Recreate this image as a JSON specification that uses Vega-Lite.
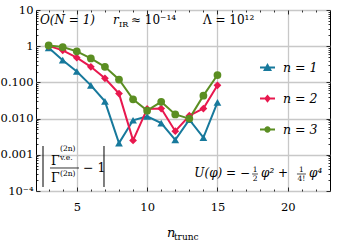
{
  "$schema": "https://vega.github.io/schema/vega-lite/v6.json",
  "width": 294,
  "height": 181,
  "autosize": {"type": "none"},
  "padding": {"left": 36, "top": 10, "right": 8, "bottom": 54},
  "background": "white",
  "config": {
    "view": {"stroke": "black", "strokeWidth": 1},
    "font": "DejaVu Serif",
    "axis": {"labelFont": "DejaVu Serif", "labelColor": "black", "labelFontSize": 11.5, "domain": false, "title": null, "tickColor": "black", "tickWidth": 0.8, "gridColor": "#c8c8c8", "gridWidth": 1.3, "gridOpacity": 1},
    "text": {"font": "DejaVu Serif", "color": "black", "baseline": "alphabetic", "align": "left"}
  },
  "data": {
    "values": [
      {"ntrunc": 3, "err": 0.9, "series": "n = 1"},
      {"ntrunc": 4, "err": 0.41, "series": "n = 1"},
      {"ntrunc": 5, "err": 0.2, "series": "n = 1"},
      {"ntrunc": 6, "err": 0.083, "series": "n = 1"},
      {"ntrunc": 7, "err": 0.03, "series": "n = 1"},
      {"ntrunc": 8, "err": 0.0021, "series": "n = 1"},
      {"ntrunc": 9, "err": 0.009, "series": "n = 1"},
      {"ntrunc": 10, "err": 0.0115, "series": "n = 1"},
      {"ntrunc": 11, "err": 0.0075, "series": "n = 1"},
      {"ntrunc": 12, "err": 0.0026, "series": "n = 1"},
      {"ntrunc": 13, "err": 0.0093, "series": "n = 1"},
      {"ntrunc": 14, "err": 0.003, "series": "n = 1"},
      {"ntrunc": 15, "err": 0.028, "series": "n = 1"},
      {"ntrunc": 3, "err": 1.02, "series": "n = 2"},
      {"ntrunc": 4, "err": 0.77, "series": "n = 2"},
      {"ntrunc": 5, "err": 0.48, "series": "n = 2"},
      {"ntrunc": 6, "err": 0.27, "series": "n = 2"},
      {"ntrunc": 7, "err": 0.13, "series": "n = 2"},
      {"ntrunc": 8, "err": 0.049, "series": "n = 2"},
      {"ntrunc": 9, "err": 0.0025, "series": "n = 2"},
      {"ntrunc": 10, "err": 0.0185, "series": "n = 2"},
      {"ntrunc": 11, "err": 0.019, "series": "n = 2"},
      {"ntrunc": 12, "err": 0.0045, "series": "n = 2"},
      {"ntrunc": 13, "err": 0.012, "series": "n = 2"},
      {"ntrunc": 14, "err": 0.019, "series": "n = 2"},
      {"ntrunc": 15, "err": 0.083, "series": "n = 2"},
      {"ntrunc": 3, "err": 1.05, "series": "n = 3"},
      {"ntrunc": 4, "err": 0.95, "series": "n = 3"},
      {"ntrunc": 5, "err": 0.72, "series": "n = 3"},
      {"ntrunc": 6, "err": 0.46, "series": "n = 3"},
      {"ntrunc": 7, "err": 0.27, "series": "n = 3"},
      {"ntrunc": 8, "err": 0.12, "series": "n = 3"},
      {"ntrunc": 9, "err": 0.034, "series": "n = 3"},
      {"ntrunc": 10, "err": 0.0166, "series": "n = 3"},
      {"ntrunc": 11, "err": 0.029, "series": "n = 3"},
      {"ntrunc": 12, "err": 0.013, "series": "n = 3"},
      {"ntrunc": 13, "err": 0.0100, "series": "n = 3"},
      {"ntrunc": 14, "err": 0.043, "series": "n = 3"},
      {"ntrunc": 15, "err": 0.16, "series": "n = 3"}
    ]
  },
  "resolve": {
    "scale": {"color": "independent", "shape": "independent"},
    "axis": {"x": "independent", "y": "independent"}
  },
  "layer": [
    {
      "mark": {"type": "line", "strokeWidth": 2},
      "encoding": {
        "x": {"field": "ntrunc", "type": "quantitative", "scale": {"domain": [2.1, 23], "nice": false, "zero": false},
              "axis": {"values": [5, 10, 15, 20], "grid": true, "ticks": false, "labels": true, "labelPadding": 10, "orient": "bottom"}},
        "y": {"field": "err", "type": "quantitative", "scale": {"type": "log", "domain": [0.0001, 10], "nice": false},
              "axis": {"values": [0.0001, 0.001, 0.01, 0.1, 1, 10], "grid": true, "ticks": false, "labels": true, "labelPadding": 3, "orient": "left",
                       "labelExpr": "datum.value > 5 ? '10' : datum.value > 0.5 ? '1' : datum.value > 0.05 ? '0.100' : datum.value > 0.005 ? '0.010' : datum.value > 0.0005 ? '0.001' : '10⁻⁴'"}},
        "color": {"field": "series", "type": "nominal", "scale": {"domain": ["n = 1", "n = 2", "n = 3"], "range": ["#17799c", "#e8184e", "#5b8e22"]}, "legend": null}
      }
    },
    {
      "mark": {"type": "point", "filled": true, "opacity": 1, "size": 60},
      "encoding": {
        "x": {"field": "ntrunc", "type": "quantitative", "axis": {"values": [5, 10, 15, 20], "grid": false, "labels": false, "ticks": true, "tickSize": -4, "orient": "bottom"}},
        "y": {"field": "err", "type": "quantitative", "axis": {"values": [0.0001, 0.001, 0.01, 0.1, 1, 10], "grid": false, "labels": false, "ticks": true, "tickSize": -4, "orient": "left"}},
        "color": {"field": "series", "type": "nominal", "scale": {"domain": ["n = 1", "n = 2", "n = 3"], "range": ["#17799c", "#e8184e", "#5b8e22"]}, "legend": null},
        "shape": {"field": "series", "type": "nominal", "scale": {"domain": ["n = 1", "n = 2", "n = 3"], "range": ["triangle-up", "diamond", "circle"]}, "legend": null}
      }
    },
    {
      "transform": [{"filter": "false"}],
      "mark": {"type": "point", "filled": true, "opacity": 1},
      "encoding": {
        "x": {"field": "ntrunc", "type": "quantitative", "axis": {"values": [5, 10, 15, 20], "grid": false, "labels": false, "ticks": true, "tickSize": -4, "orient": "top"}},
        "y": {"field": "err", "type": "quantitative", "axis": {"values": [0.0001, 0.001, 0.01, 0.1, 1, 10], "grid": false, "labels": false, "ticks": true, "tickSize": -4, "orient": "right"}},
        "color": {"field": "series", "type": "nominal", "scale": {"domain": ["n = 1", "n = 2", "n = 3"], "range": ["#17799c", "#e8184e", "#5b8e22"]},
                  "legend": {"orient": "none", "legendX": 224, "legendY": 50, "title": null, "padding": 0, "symbolSize": 225, "symbolStrokeWidth": 0, "symbolOpacity": 1,
                             "labelFont": "DejaVu Serif", "labelFontSize": 12.5, "labelFontStyle": "italic", "labelOffset": 8, "rowPadding": 17, "labelColor": "black"}},
        "shape": {"field": "series", "type": "nominal", "scale": {"domain": ["n = 1", "n = 2", "n = 3"],
                  "range": ["M-1,-0.13H1V0.13H-1ZM0,-0.6L0.6,0.45L-0.6,0.45Z", "M-1,-0.13H1V0.13H-1ZM0,-0.55L0.45,0L0,0.55L-0.45,0Z", "M-1,-0.13H1V0.13H-1ZM-0.42,0A0.42,0.42 0 1,1 0.42,0A0.42,0.42 0 1,1 -0.42,0Z"]},
                  "legend": {"orient": "none", "legendX": 224, "legendY": 50, "title": null, "padding": 0, "symbolSize": 225, "symbolStrokeWidth": 0, "symbolOpacity": 1,
                             "labelFont": "DejaVu Serif", "labelFontSize": 12.5, "labelFontStyle": "italic", "labelOffset": 8, "rowPadding": 17, "labelColor": "black"}}
      }
    },
    {
      "transform": [{"filter": "false"}],
      "mark": {"type": "point"},
      "encoding": {
        "x": {"field": "ntrunc", "type": "quantitative", "axis": {"values": [3, 4, 6, 7, 8, 9, 11, 12, 13, 14, 16, 17, 18, 19, 21, 22], "grid": false, "labels": false, "ticks": true, "tickSize": -2, "orient": "bottom"}},
        "y": {"field": "err", "type": "quantitative", "axis": {"values": [0.0002, 0.0003, 0.0004, 0.0005, 0.0006, 0.0007, 0.0008, 0.0009, 0.002, 0.003, 0.004, 0.005, 0.006, 0.007, 0.008, 0.009, 0.02, 0.03, 0.04, 0.05, 0.06, 0.07, 0.08, 0.09, 0.2, 0.3, 0.4, 0.5, 0.6, 0.7, 0.8, 0.9, 2, 3, 4, 5, 6, 7, 8, 9], "grid": false, "labels": false, "ticks": true, "tickSize": -2, "orient": "left"}}
      }
    },
    {
      "transform": [{"filter": "false"}],
      "mark": {"type": "point"},
      "encoding": {
        "x": {"field": "ntrunc", "type": "quantitative", "axis": {"values": [3, 4, 6, 7, 8, 9, 11, 12, 13, 14, 16, 17, 18, 19, 21, 22], "grid": false, "labels": false, "ticks": true, "tickSize": -2, "orient": "top"}},
        "y": {"field": "err", "type": "quantitative", "axis": {"values": [0.0002, 0.0003, 0.0004, 0.0005, 0.0006, 0.0007, 0.0008, 0.0009, 0.002, 0.003, 0.004, 0.005, 0.006, 0.007, 0.008, 0.009, 0.02, 0.03, 0.04, 0.05, 0.06, 0.07, 0.08, 0.09, 0.2, 0.3, 0.4, 0.5, 0.6, 0.7, 0.8, 0.9, 2, 3, 4, 5, 6, 7, 8, 9], "grid": false, "labels": false, "ticks": true, "tickSize": -2, "orient": "right"}}
      }
    },
    {"data": {"values": [{}]}, "mark": {"type": "text", "text": "O(N = 1)", "fontSize": 12, "fontStyle": "italic"},
     "encoding": {"x": {"datum": 2.384, "type": "quantitative", "axis": null}, "y": {"datum": 4.105, "type": "quantitative", "axis": null}}},
    {"data": {"values": [{}]}, "mark": {"type": "text", "text": "r", "fontSize": 12, "fontStyle": "italic"},
     "encoding": {"x": {"datum": 7.574, "type": "quantitative", "axis": null}, "y": {"datum": 4.105, "type": "quantitative", "axis": null}}},
    {"data": {"values": [{}]}, "mark": {"type": "text", "text": "IR", "fontSize": 8},
     "encoding": {"x": {"datum": 8.0, "type": "quantitative", "axis": null}, "y": {"datum": 3.5, "type": "quantitative", "axis": null}}},
    {"data": {"values": [{}]}, "mark": {"type": "text", "text": "≈ 10⁻¹⁴", "fontSize": 12},
     "encoding": {"x": {"datum": 8.85, "type": "quantitative", "axis": null}, "y": {"datum": 4.105, "type": "quantitative", "axis": null}}},
    {"data": {"values": [{}]}, "mark": {"type": "text", "text": "Λ = 10¹²", "fontSize": 12},
     "encoding": {"x": {"datum": 13.97, "type": "quantitative", "axis": null}, "y": {"datum": 4.105, "type": "quantitative", "axis": null}}},
    {"data": {"values": [{}]}, "mark": {"type": "rule", "strokeWidth": 1, "color": "black"},
     "encoding": {"x": {"datum": 2.598, "type": "quantitative", "axis": null}, "y": {"datum": 0.00175, "type": "quantitative", "axis": null}, "y2": {"datum": 0.000129}}},
    {"data": {"values": [{}]}, "mark": {"type": "rule", "strokeWidth": 1, "color": "black"},
     "encoding": {"x": {"datum": 6.934, "type": "quantitative", "axis": null}, "y": {"datum": 0.00175, "type": "quantitative", "axis": null}, "y2": {"datum": 0.000129}}},
    {"data": {"values": [{}]}, "mark": {"type": "rule", "strokeWidth": 0.8, "color": "black"},
     "encoding": {"x": {"datum": 3.095, "type": "quantitative", "axis": null}, "x2": {"datum": 5.157}, "y": {"datum": 0.000432, "type": "quantitative", "axis": null}}},
    {"data": {"values": [{}]}, "mark": {"type": "text", "text": "Γ", "fontSize": 12.5},
     "encoding": {"x": {"datum": 3.166, "type": "quantitative", "axis": null}, "y": {"datum": 0.000523, "type": "quantitative", "axis": null}}},
    {"data": {"values": [{}]}, "mark": {"type": "text", "text": "(2n)", "fontSize": 7.5},
     "encoding": {"x": {"datum": 3.806, "type": "quantitative", "axis": null}, "y": {"datum": 0.00125, "type": "quantitative", "axis": null}}},
    {"data": {"values": [{}]}, "mark": {"type": "text", "text": "v.e.", "fontSize": 7.5},
     "encoding": {"x": {"datum": 3.806, "type": "quantitative", "axis": null}, "y": {"datum": 0.000700, "type": "quantitative", "axis": null}}},
    {"data": {"values": [{}]}, "mark": {"type": "text", "text": "Γ", "fontSize": 12.5},
     "encoding": {"x": {"datum": 3.166, "type": "quantitative", "axis": null}, "y": {"datum": 0.0001773, "type": "quantitative", "axis": null}}},
    {"data": {"values": [{}]}, "mark": {"type": "text", "text": "(2n)", "fontSize": 7.5},
     "encoding": {"x": {"datum": 3.806, "type": "quantitative", "axis": null}, "y": {"datum": 0.00026, "type": "quantitative", "axis": null}}},
    {"data": {"values": [{}]}, "mark": {"type": "text", "text": "− 1", "fontSize": 12.5},
     "encoding": {"x": {"datum": 5.441, "type": "quantitative", "axis": null}, "y": {"datum": 0.000335, "type": "quantitative", "axis": null}}},
    {"data": {"values": [{}]}, "mark": {"type": "text", "text": "U(φ) = −", "fontSize": 12, "fontStyle": "italic", "align": "right"},
     "encoding": {"x": {"datum": 17.31, "type": "quantitative", "axis": null}, "y": {"datum": 0.000244, "type": "quantitative", "axis": null}}},
    {"data": {"values": [{}]}, "mark": {"type": "text", "text": "1", "fontSize": 7.5, "align": "center"},
     "encoding": {"x": {"datum": 17.67, "type": "quantitative", "axis": null}, "y": {"datum": 0.000335, "type": "quantitative", "axis": null}}},
    {"data": {"values": [{}]}, "mark": {"type": "text", "text": "2", "fontSize": 7.5, "align": "center"},
     "encoding": {"x": {"datum": 17.67, "type": "quantitative", "axis": null}, "y": {"datum": 0.000183, "type": "quantitative", "axis": null}}},
    {"data": {"values": [{}]}, "mark": {"type": "rule", "strokeWidth": 0.7, "color": "black"},
     "encoding": {"x": {"datum": 17.46, "type": "quantitative", "axis": null}, "x2": {"datum": 17.88}, "y": {"datum": 0.000295, "type": "quantitative", "axis": null}}},
    {"data": {"values": [{}]}, "mark": {"type": "text", "text": "φ² +", "fontSize": 12, "fontStyle": "italic"},
     "encoding": {"x": {"datum": 18.1, "type": "quantitative", "axis": null}, "y": {"datum": 0.000244, "type": "quantitative", "axis": null}}},
    {"data": {"values": [{}]}, "mark": {"type": "text", "text": "1", "fontSize": 7.5, "align": "center"},
     "encoding": {"x": {"datum": 20.97, "type": "quantitative", "axis": null}, "y": {"datum": 0.000335, "type": "quantitative", "axis": null}}},
    {"data": {"values": [{}]}, "mark": {"type": "text", "text": "4!", "fontSize": 7.5, "align": "center"},
     "encoding": {"x": {"datum": 20.97, "type": "quantitative", "axis": null}, "y": {"datum": 0.000183, "type": "quantitative", "axis": null}}},
    {"data": {"values": [{}]}, "mark": {"type": "rule", "strokeWidth": 0.7, "color": "black"},
     "encoding": {"x": {"datum": 20.65, "type": "quantitative", "axis": null}, "x2": {"datum": 21.29}, "y": {"datum": 0.000295, "type": "quantitative", "axis": null}}},
    {"data": {"values": [{}]}, "mark": {"type": "text", "text": "φ⁴", "fontSize": 12, "fontStyle": "italic"},
     "encoding": {"x": {"datum": 21.51, "type": "quantitative", "axis": null}, "y": {"datum": 0.000244, "type": "quantitative", "axis": null}}},
    {"data": {"values": [{}]}, "mark": {"type": "text", "text": "n", "fontSize": 13, "fontStyle": "italic"},
     "encoding": {"x": {"datum": 11.41, "type": "quantitative", "axis": null}, "y": {"datum": 0.00000536, "type": "quantitative", "axis": null}}},
    {"data": {"values": [{}]}, "mark": {"type": "text", "text": "trunc", "fontSize": 9},
     "encoding": {"x": {"datum": 11.91, "type": "quantitative", "axis": null}, "y": {"datum": 0.00000443, "type": "quantitative", "axis": null}}}
  ]
}
